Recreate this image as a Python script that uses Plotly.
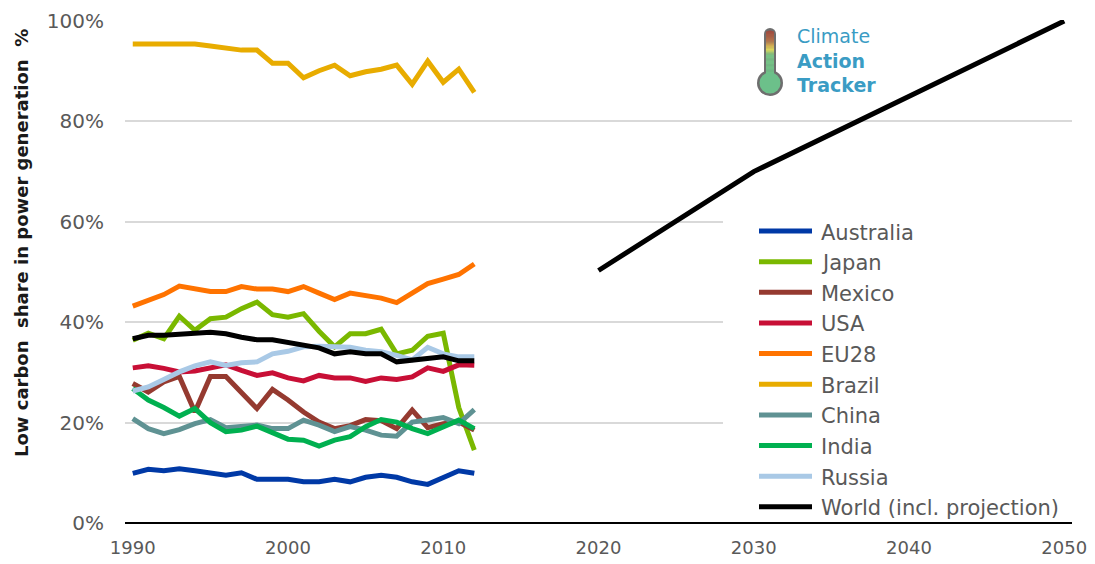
# ================================================================
# 0. Section: IMPORTS
# ================================================================
import plotly.graph_objects as go


# ================================================================
# 1. Section: Data
# ================================================================
years = list(range(1990, 2013))

australia = [9.9, 10.7, 10.4, 10.8, 10.4, 10.0, 9.5, 10.0, 8.7, 8.7, 8.7, 8.2,
             8.2, 8.7, 8.2, 9.1, 9.5, 9.1, 8.2, 7.7, 9.1, 10.4, 9.9]
japan = [36.4, 37.8, 36.7, 41.2, 38.4, 40.7, 41.0, 42.7, 44.0, 41.5, 41.0, 41.7,
         38.2, 35.1, 37.7, 37.7, 38.6, 33.7, 34.4, 37.2, 37.8, 23.0, 14.5]
mexico = [27.8, 26.1, 28.1, 29.2, 22.1, 29.2, 29.2, 26.1, 22.8, 26.6, 24.5, 22.1,
          20.1, 18.8, 19.4, 20.6, 20.4, 18.8, 22.5, 19.0, 19.8, 20.1, 18.5]
usa = [30.9, 31.3, 30.8, 30.1, 30.3, 30.9, 31.5, 30.4, 29.4, 29.9, 28.9, 28.3,
       29.4, 28.9, 28.9, 28.2, 28.9, 28.6, 29.1, 30.9, 30.2, 31.5, 31.4]
eu28 = [43.2, 44.3, 45.5, 47.2, 46.7, 46.1, 46.1, 47.1, 46.6, 46.6, 46.1, 47.1,
        45.8, 44.5, 45.8, 45.3, 44.8, 43.9, 45.7, 47.7, 48.6, 49.5, 51.6]
brazil = [95.4, 95.4, 95.4, 95.4, 95.4, 95.0, 94.6, 94.2, 94.2, 91.6, 91.6, 88.7,
          90.1, 91.2, 89.1, 89.9, 90.4, 91.2, 87.4, 92.0, 87.8, 90.4, 85.8]
china = [20.8, 18.8, 17.8, 18.6, 19.8, 20.6, 19.0, 19.2, 19.5, 18.8, 18.8, 20.5,
         19.5, 18.2, 19.2, 18.5, 17.5, 17.3, 20.1, 20.5, 21.0, 19.8, 22.6]
india = [26.8, 24.5, 23.0, 21.3, 22.8, 20.0, 18.2, 18.5, 19.3, 18.0, 16.7, 16.5,
         15.3, 16.5, 17.2, 19.2, 20.6, 20.1, 18.8, 17.8, 19.2, 20.5, 18.8]
russia = [26.3, 27.1, 28.6, 30.1, 31.3, 32.1, 31.4, 31.9, 32.1, 33.7, 34.2, 35.1,
          35.2, 35.0, 35.0, 34.4, 34.1, 33.4, 32.5, 35.0, 33.7, 33.1, 33.1]
world_hist = [36.7, 37.4, 37.4, 37.7, 37.8, 38.0, 37.7, 37.0, 36.5, 36.5, 35.9, 35.4,
              34.9, 33.7, 34.1, 33.7, 33.7, 32.1, 32.4, 32.9, 33.1, 32.3, 32.3]

proj_years = [2020, 2030, 2050]
world_proj = [50.3, 70.0, 100.0]

series_names = ["Australia", "Japan", "Mexico", "USA", "EU28",
                "Brazil", "China", "India", "Russia"]
series_values = [australia, japan, mexico, usa, eu28,
                 brazil, china, india, russia]
series_colors = ["#0039a6", "#7ab800", "#953a30", "#c80f36", "#ff7300",
                 "#e8ac00", "#5f9293", "#00b050", "#a9c9e6"]
world_name = "World (incl. projection)"

x_ticks = [1990, 2000, 2010, 2020, 2030, 2040, 2050]
y_ticks = [0, 20, 40, 60, 80, 100]
y_ticktext = ["0%", "20%", "40%", "60%", "80%", "100%"]


# ================================================================
# 2. Section: Helpers (pixel -> paper, for logo and legend)
# ================================================================
W, H = 1095, 564
L, R, T, B = 125, 23, 20, 41
PW, PH = W - L - R, H - T - B


def px(x):
    return (x - L) / PW


def py(y):
    return (H - B - y) / PH


def mix(c1, c2, t):
    a = [int(c1[i:i + 2], 16) for i in (1, 3, 5)]
    b = [int(c2[i:i + 2], 16) for i in (1, 3, 5)]
    return "#" + "".join(f"{round(a[k] + (b[k] - a[k]) * t):02x}" for k in range(3))


# ================================================================
# 3. Section: Figure
# ================================================================
FONT = "DejaVu Sans"
GREY = "#595959"

fig = go.Figure()

for name, vals, col in zip(series_names, series_values, series_colors):
    fig.add_trace(
        go.Scatter(
            x=years, y=vals, mode="lines", name=name,
            line=dict(color=col, width=5),
        )
    )

world_x = years + [None] + proj_years
world_y = world_hist + [None] + world_proj
fig.add_trace(
    go.Scatter(
        x=world_x, y=world_y, mode="lines", name=world_name,
        line=dict(color="#000000", width=5), connectgaps=False,
    )
)

shapes = []
annotations = []

# --- legend (drawn by hand so the key lines are long like the original)
shapes.append(dict(type="rect", xref="paper", yref="paper",
                   x0=px(723), x1=px(1073), y0=py(521), y1=py(214),
                   fillcolor="white", line=dict(width=0), layer="above"))
leg_names = series_names + [world_name]
leg_colors = series_colors + ["#000000"]
for i, (name, col) in enumerate(zip(leg_names, leg_colors)):
    yy = 231 + 30.65 * i
    shapes.append(dict(type="line", xref="paper", yref="paper",
                       x0=px(759), x1=px(812), y0=py(yy), y1=py(yy),
                       line=dict(color=col, width=5), layer="above"))
    annotations.append(dict(text=name, x=px(819), y=py(yy + 1.5),
                            xref="paper", yref="paper", xanchor="left",
                            yanchor="middle", showarrow=False,
                            font=dict(family=FONT, size=21, color=GREY)))

# --- thermometer logo
tube_col = "#6e6e6e"
shapes.append(dict(type="circle", xref="paper", yref="paper",
                   x0=px(757), x1=px(783), y0=py(96), y1=py(70),
                   fillcolor=tube_col, line=dict(width=0), layer="above"))
shapes.append(dict(type="rect", xref="paper", yref="paper",
                   x0=px(764), x1=px(776), y0=py(80), y1=py(34),
                   fillcolor=tube_col, line=dict(width=0), layer="above"))
shapes.append(dict(type="circle", xref="paper", yref="paper",
                   x0=px(764), x1=px(776), y0=py(40), y1=py(28),
                   fillcolor=tube_col, line=dict(width=0), layer="above"))
stops = [(31, "#9e4b3f"), (41, "#b4734a"), (49, "#e4d658"), (55, "#79c184"),
         (80, "#6cc08a")]
n = 40
top, bot = 31.5, 80
shapes.append(dict(type="circle", xref="paper", yref="paper",
                   x0=px(766), x1=px(774), y0=py(38), y1=py(30.5),
                   fillcolor=stops[0][1], line=dict(width=0), layer="above"))
for i in range(n):
    y0 = top + (bot - top) * i / n
    y1 = top + (bot - top) * (i + 1) / n
    ym = (y0 + y1) / 2
    col = stops[-1][1]
    for (ya, ca), (yb, cb) in zip(stops[:-1], stops[1:]):
        if ya <= ym <= yb:
            col = mix(ca, cb, (ym - ya) / (yb - ya))
            break
    shapes.append(dict(type="rect", xref="paper", yref="paper",
                       x0=px(766), x1=px(774), y0=py(y1 + 0.3), y1=py(y0),
                       fillcolor=col, line=dict(width=0), layer="above"))
shapes.append(dict(type="circle", xref="paper", yref="paper",
                   x0=px(759.5), x1=px(780.5), y0=py(93.5), y1=py(72.5),
                   fillcolor="#6cc08a", line=dict(width=0), layer="above"))

LOGO = "#3a9cc4"
annotations.append(dict(
    text="Climate<br><b>Action</b><br><b>Tracker</b>",
    x=px(795), y=py(60), xref="paper", yref="paper",
    xanchor="left", yanchor="middle", align="left", showarrow=False,
    font=dict(family=FONT, size=19, color=LOGO)))

# --- y axis title
annotations.append(dict(
    text="<b>Low carbon\u00a0 share in power generation\u00a0 %</b>",
    x=px(21), y=py(243), xref="paper", yref="paper",
    xanchor="center", yanchor="middle", textangle=-90, showarrow=False,
    font=dict(family=FONT, size=18, color="#1a1a1a")))

fig.update_layout(
    width=W, height=H,
    margin=dict(l=L, r=R, t=T, b=B, autoexpand=False),
    paper_bgcolor="white",
    plot_bgcolor="white",
    showlegend=False,
    xaxis=dict(
        range=[1989.5, 2050.5], tickvals=x_ticks, showgrid=False,
        zeroline=False, showline=False, ticks="", ticklabelstandoff=12,
        tickfont=dict(family=FONT, size=18, color=GREY),
    ),
    yaxis=dict(
        range=[0, 100.2], tickvals=y_ticks, ticktext=y_ticktext,
        showgrid=True, gridcolor="#d9d9d9", gridwidth=2,
        zeroline=True, zerolinecolor="#000000", zerolinewidth=2,
        showline=False, ticks="", ticklabelstandoff=20,
        tickfont=dict(family=FONT, size=20, color=GREY),
    ),
    shapes=shapes,
    annotations=annotations,
)

fig.write_html("out.html", config={"displayModeBar": False},
               post_script="document.body.style.margin='0';")
